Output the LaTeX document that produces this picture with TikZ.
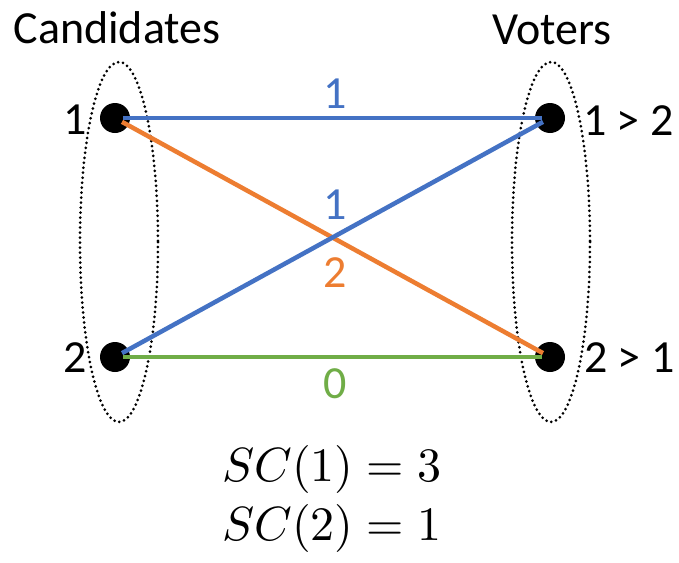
\documentclass[tikz,border=0pt]{standalone}
\usepackage{fontspec}
\setmainfont{Carlito}
\definecolor{oblue}{HTML}{4472C4}
\definecolor{oorange}{HTML}{ED7D31}
\definecolor{ogreen}{HTML}{70AD47}
\begin{document}
\begin{tikzpicture}[x=1pt,y=-1pt,
  dot/.style={circle,fill=black,inner sep=0pt,minimum size=30pt},
  group/.style={draw=black,line width=3pt,dash pattern=on 0pt off 5pt,line cap=round},
  edge/.style={line width=4.5pt,shorten <=8pt,shorten >=8pt},
  lbl/.style={font=\fontsize{46}{46}\selectfont,inner sep=0pt},
  head/.style={font=\fontsize{46}{46}\selectfont,inner sep=0pt},
  eq/.style={inner sep=0pt}]
\useasboundingbox[fill=white] (0,0) rectangle (679,562);
\draw[group] (119,242) ellipse [x radius=39, y radius=180];
\draw[group] (551,242) ellipse [x radius=39, y radius=180];
\node[dot] (c1) at (115,118) {};
\node[dot] (c2) at (115,357) {};
\node[dot] (v1) at (550,118) {};
\node[dot] (v2) at (550,357) {};
\draw[edge,oblue] (c1.center) -- (v1.center);
\draw[edge,oorange] (c1.center) -- (v2.center);
\draw[edge,oblue] (c2.center) -- (v1.center);
\draw[edge,ogreen] (c2.center) -- (v2.center);
\node[head] (hc) at (117,28) {Candidates};
\node[head] (hv) at (552,30) {Voters};
\node[lbl,anchor=east] (n1) at (87,120) {1};
\node[lbl,anchor=east] (n2) at (87,358) {2};
\node[lbl,anchor=west] (p1) at (583,121) {1 > 2};
\node[lbl,anchor=west] (p2) at (584,358) {2 > 1};
\node[lbl,text=oblue] (w1) at (335,94) {1};
\node[lbl,text=oblue] (w2) at (335,205) {1};
\node[lbl,text=oorange] (w3) at (335,273) {2};
\node[lbl,text=ogreen] (w4) at (335,384) {0};
\node[eq] (s1) at (332,469) {\scalebox{4.8}{$SC(1)=3$}};
\node[eq] (s2) at (332,528) {\scalebox{4.8}{$SC(2)=1$}};
\end{tikzpicture}
\end{document}
